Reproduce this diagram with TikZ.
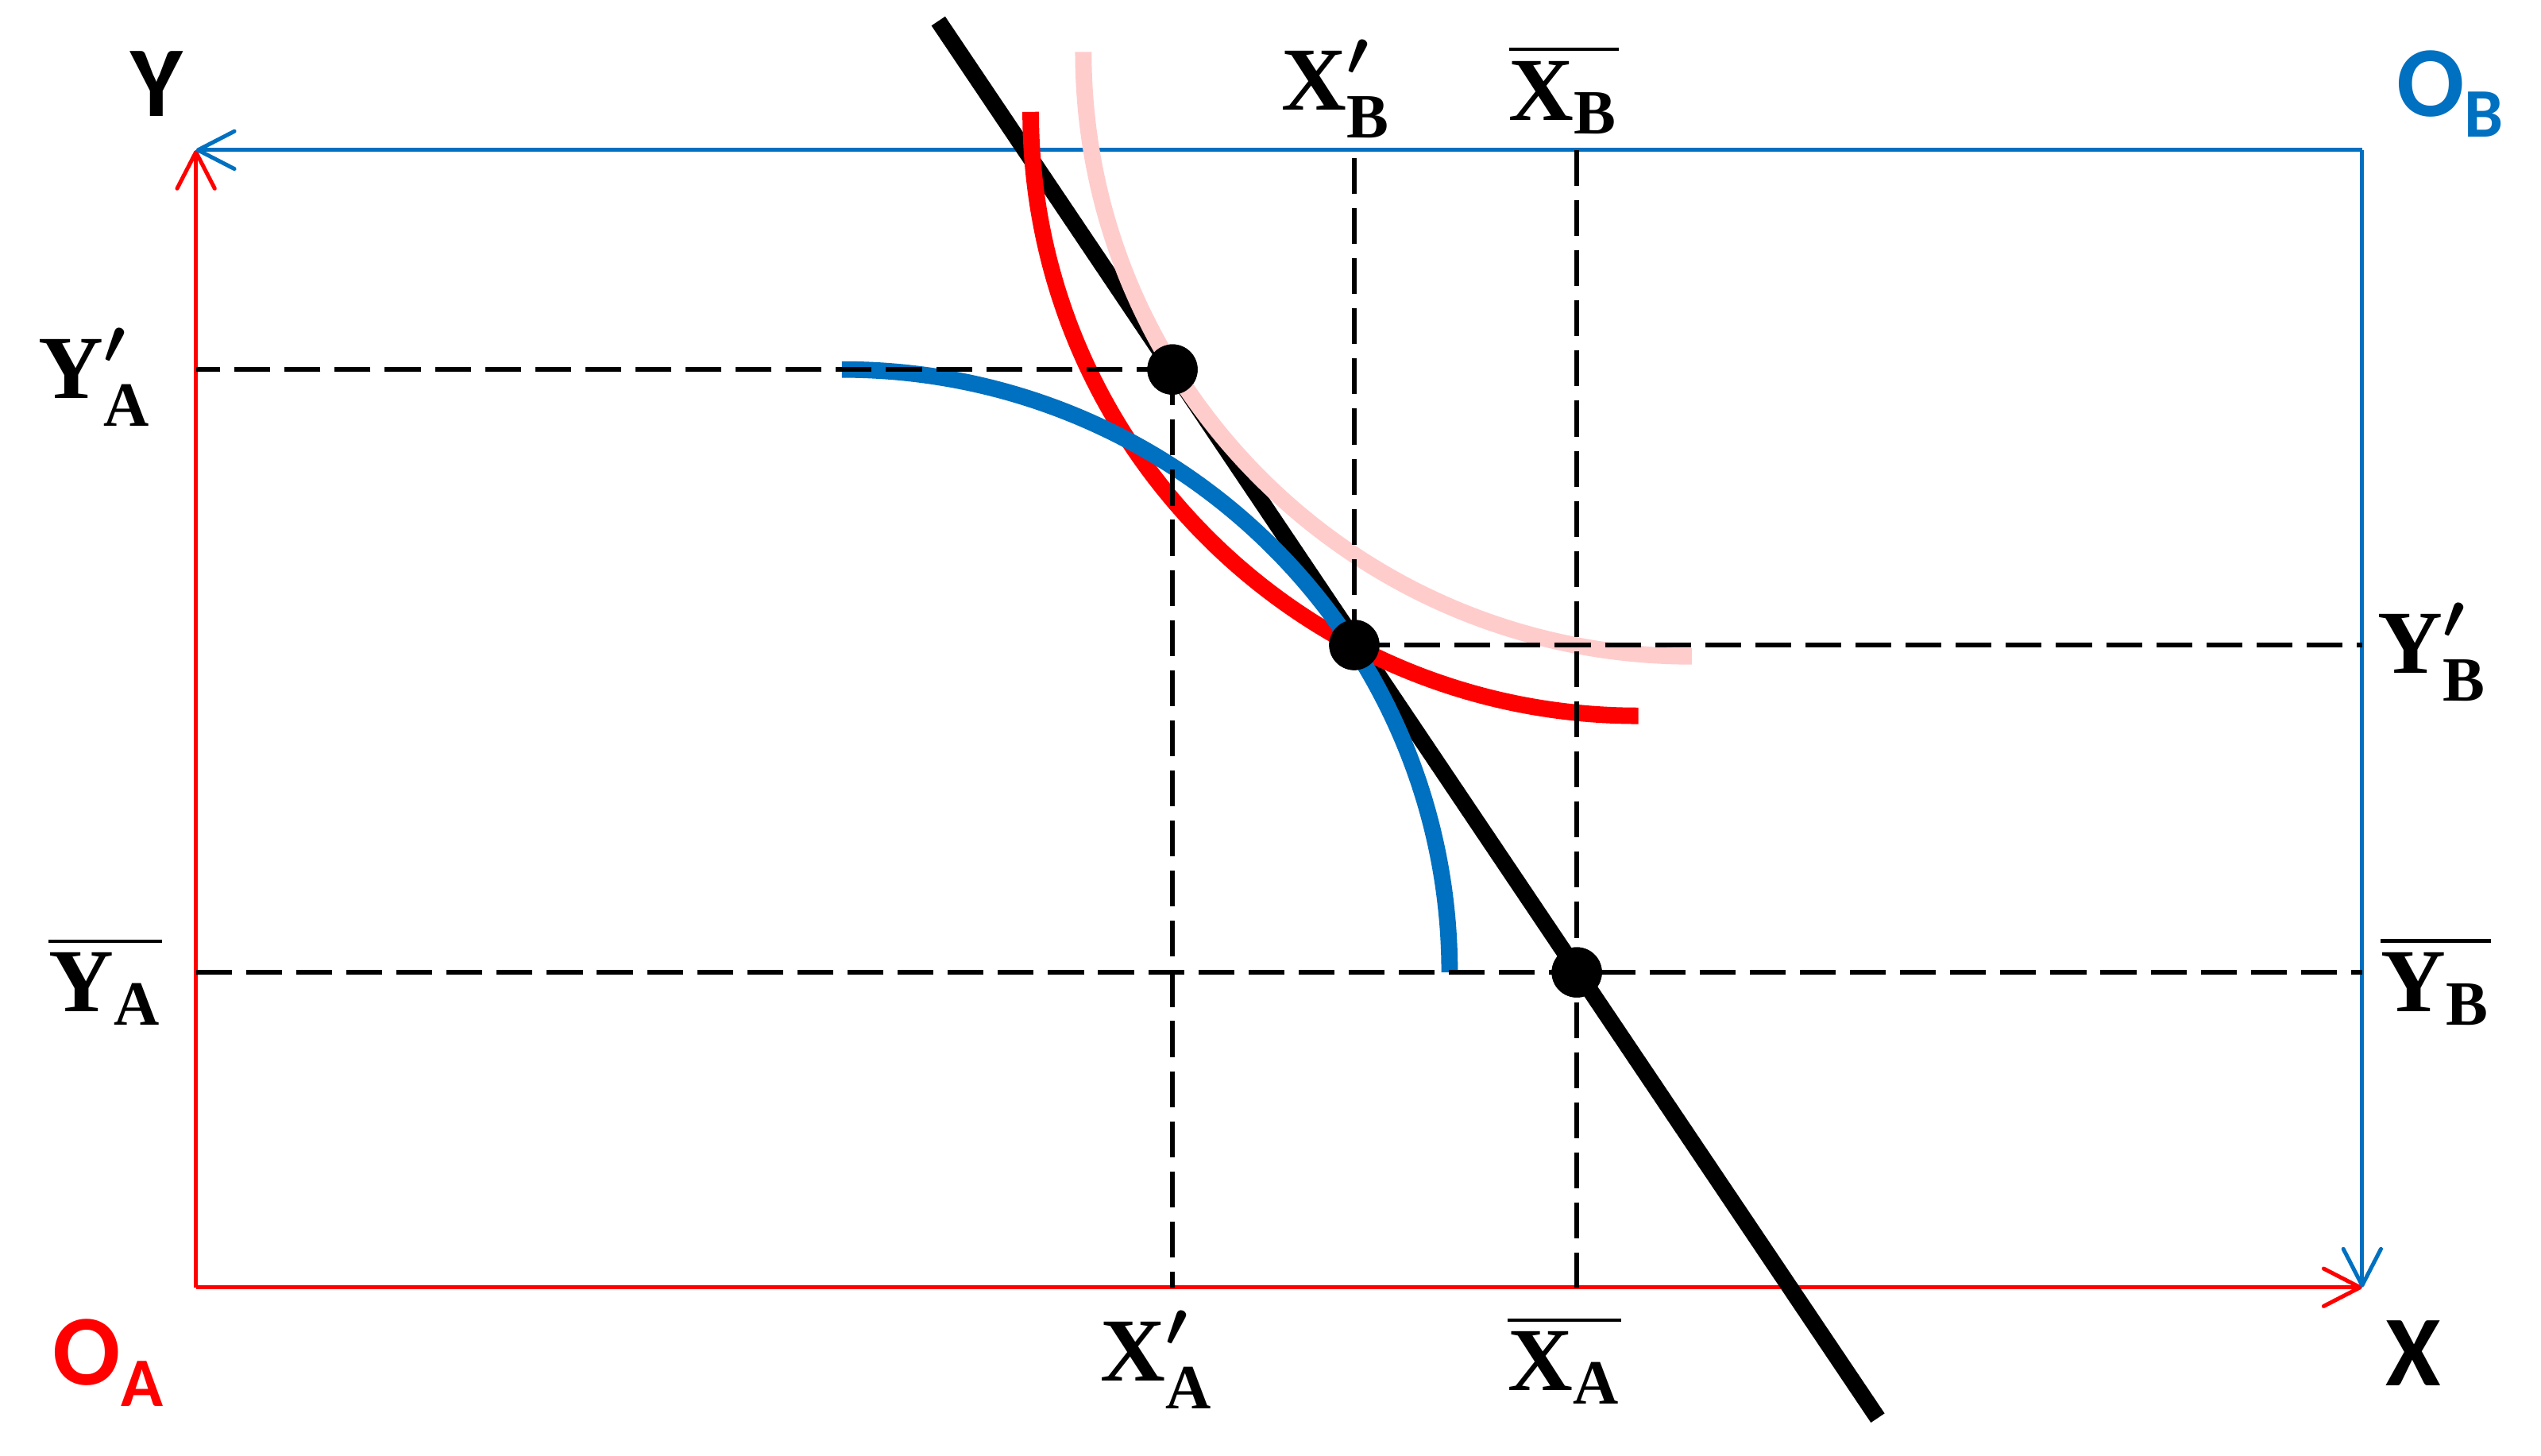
\documentclass[tikz,border=0pt]{standalone}
\usepackage{fix-cm}
\usepackage{amsmath}
\usepackage{fontspec}
\setmainfont{Liberation Serif}
\newfontfamily\axisfont{Carlito}
\usepackage{xcolor}
\usepackage{tikz}
\usetikzlibrary{arrows.meta}
\usetikzlibrary{positioning, calc}

\definecolor{bblue}{RGB}{0,112,192}
\definecolor{lightpink}{RGB}{255,204,204}

\newcommand{\primed}[2]{{\boldmath$\textbf{#1}'_{\textbf{#2}}$}}
\newcommand{\barred}[2]{{\boldmath$\overline{\textbf{#1}_{\textbf{#2}}}$}}
\newcommand{\lowsub}[1]{\raisebox{-0.13cm}{\fontsize{12.2}{14}\selectfont #1}}

\begin{document}
\begin{tikzpicture} [
	tip/.style={-{Straight Barb[length=6.4pt, width=6.6pt, round]}}, % open arrow heads on the axes
	axis/.style={line width=0.7pt, tip}, % the edges of the box
	curve/.style={line width=2.9pt}, % budget line and indifference curves
	guide/.style={line width=0.85pt, dash pattern=on 6.3pt off 2.5pt}, % dashed helper lines
	dot/.style={circle, fill=black, inner sep=0pt, minimum size=0.31cm}, % allocations
	lbl/.style={inner sep=0pt, font=\fontsize{15.8}{19}\selectfont}, % math labels
	big/.style={inner sep=0pt, font=\axisfont\bfseries\fontsize{17.6}{20}\selectfont}, % axis names and origins
	]
	\useasboundingbox (0,0) rectangle (15.68,-8.98);

	% corners of the box
	\coordinate (OA) at (1.209,-7.944);
	\coordinate (OB) at (14.576,-0.926);
	\coordinate (TL) at (OA |- OB);
	\coordinate (BR) at (OB |- OA);

	% budget line ends
	\coordinate (P1) at (5.79,-0.13);
	\coordinate (P2) at (11.587,-8.75);

	% the three allocations
	\node[dot] (E1) at (7.235,-2.28) {};
	\node[dot] (E2) at (8.357,-3.98) {};
	\node[dot] (E0) at (9.73,-6.0) {};

	% box
	\draw[axis, red] (OA) -- (TL);
	\draw[axis, red] (OA) -- (BR);
	\draw[axis, bblue] (OB) -- (TL);
	\draw[axis, bblue] (OB) -- (BR);

	% budget line and curves
	\draw[curve, black] (P1) -- (P2);
	\draw[curve, lightpink] (6.685,-0.32) arc[start angle=180, end angle=270, x radius=3.755, y radius=3.73];
	\draw[curve, red] (6.36,-0.69) arc[start angle=180, end angle=270, x radius=3.75, y radius=3.727];
	\draw[curve, bblue] (5.195,-2.28) arc[start angle=90, end angle=0, x radius=3.75, y radius=3.72];

	% dashed lines
	\draw[guide] (E1.center) -- (E1 -| OA);
	\draw[guide] (E1.center) -- (E1 |- OA);
	\draw[guide] (E2.center) -- (E2 -| OB);
	\draw[guide] (E2.center) -- (E2 |- OB);
	\draw[guide] (E0 -| OA) -- (E0 -| OB);
	\draw[guide] (E0 |- OB) -- (E0 |- OA);

	% dots again on top
	\node[dot] at (E1) {};
	\node[dot] at (E2) {};
	\node[dot] at (E0) {};

	% labels
	\node[big] (labY) at (0.965,-0.52) {Y};
	\node[big] (labX) at (14.89,-8.35) {X};
	\node[big, text=bblue] (labOB) at (15.12,-0.58) {O\lowsub{B}};
	\node[big, text=red] (labOA) at (0.667,-8.41) {O\lowsub{A}};

	\node[lbl] (xa1) at (7.14,-8.39) {\primed{X}{A}};
	\node[lbl] (xa0) at (9.655,-8.39) {\barred{X}{A}};
	\node[lbl] (xb1) at (8.246,-0.55) {\primed{X}{B}};
	\node[lbl] (xb0) at (9.65,-0.55) {\barred{X}{B}};
	\node[lbl] (ya1) at (0.586,-2.328) {\primed{Y}{A}};
	\node[lbl] (ya0) at (0.65,-6.05) {\barred{Y}{A}};
	\node[lbl] (yb1) at (15.01,-4.025) {\primed{Y}{B}};
	\node[lbl] (yb0) at (15.03,-6.05) {\barred{Y}{B}};
\end{tikzpicture}
\end{document}
